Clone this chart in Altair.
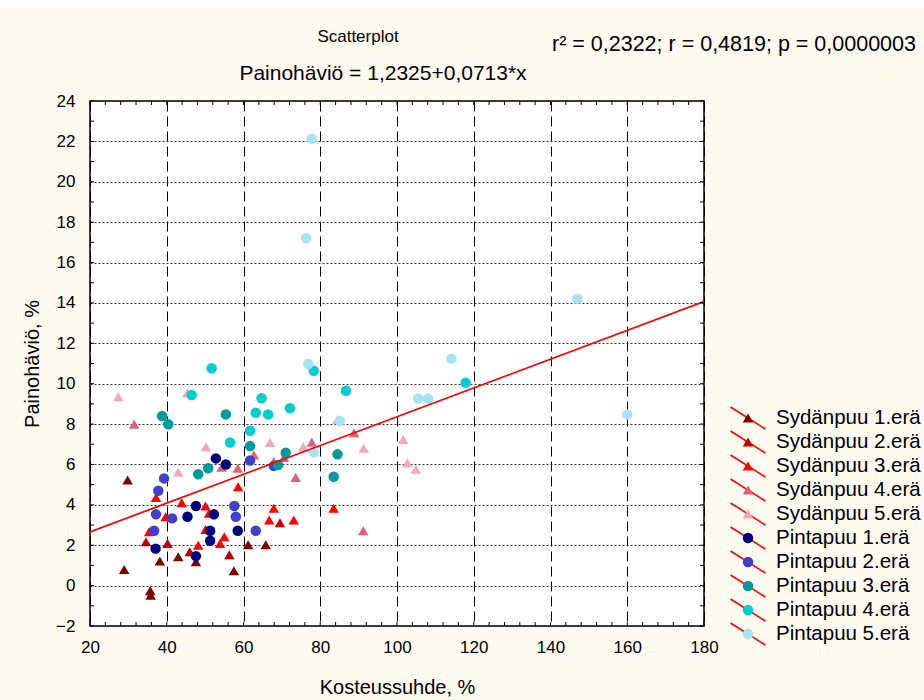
import altair as alt
import pandas as pd

# Moisture ratio (%) and weight loss (%) per batch
syd1_x = [29.8, 28.9, 35.7, 35.8, 38.2, 43.0, 47.6, 57.5, 61.2, 65.8]
syd1_y = [5.23, 0.80, -0.25, -0.47, 1.22, 1.43, 1.18, 0.74, 2.02, 2.02]
syd2_x = [34.6, 40.2, 46.0, 56.3, 69.5]
syd2_y = [2.17, 2.09, 1.68, 1.53, 3.11]
syd3_x = [37.2, 39.7, 35.4, 43.9, 48.2, 50.1, 51.0, 50.1, 53.9, 55.0, 58.6, 67.9, 66.7, 73.1, 83.5]
syd3_y = [4.37, 3.41, 2.67, 4.10, 2.00, 3.94, 3.58, 2.78, 2.09, 2.42, 4.90, 3.83, 3.25, 3.25, 3.83]
syd4_x = [31.5, 54.3, 58.5, 62.7, 67.9, 70.5, 73.6, 77.8, 88.8, 91.2]
syd4_y = [7.99, 5.86, 5.81, 6.47, 6.14, 6.35, 5.36, 7.10, 7.57, 2.72]
syd5_x = [27.4, 45.4, 50.2, 43.0, 66.9, 75.6, 91.3, 84.5, 101.6, 102.7, 104.9]
syd5_y = [9.35, 9.55, 6.88, 5.62, 7.09, 6.87, 6.80, 8.23, 7.24, 6.08, 5.76]
pin1_x = [52.8, 55.4, 47.6, 52.3, 45.4, 51.3, 51.3, 47.6, 58.5, 37.1]
pin1_y = [6.30, 6.00, 3.94, 3.53, 3.41, 2.72, 2.22, 1.46, 2.72, 1.83]
pin2_x = [39.3, 37.8, 37.2, 36.7, 41.4, 57.6, 58.0, 63.2, 61.7, 67.9]
pin2_y = [5.31, 4.70, 3.53, 2.72, 3.33, 3.94, 3.41, 2.72, 6.20, 5.93]
pin3_x = [38.8, 40.4, 55.4, 48.2, 50.8, 61.7, 71.0, 69.0, 84.5, 83.5]
pin3_y = [8.40, 7.99, 8.48, 5.51, 5.81, 6.91, 6.58, 5.97, 6.50, 5.39]
pin4_x = [46.5, 56.5, 64.7, 63.2, 66.4, 72.1, 61.7, 86.7, 51.7, 78.3, 117.9]
pin4_y = [9.44, 7.09, 9.28, 8.56, 8.48, 8.78, 7.67, 9.65, 10.76, 10.64, 10.05]
pin5_x = [77.8, 76.3, 76.9, 78.3, 85.1, 105.5, 108.1, 114.2, 147.0, 160.0]
pin5_y = [22.13, 17.20, 10.97, 6.60, 8.15, 9.27, 9.27, 11.24, 14.21, 8.48]

series_names = ["Sydänpuu 1.erä", "Sydänpuu 2.erä", "Sydänpuu 3.erä", "Sydänpuu 4.erä",
                "Sydänpuu 5.erä", "Pintapuu 1.erä", "Pintapuu 2.erä", "Pintapuu 3.erä",
                "Pintapuu 4.erä", "Pintapuu 5.erä"]
series_x = [syd1_x, syd2_x, syd3_x, syd4_x, syd5_x, pin1_x, pin2_x, pin3_x, pin4_x, pin5_x]
series_y = [syd1_y, syd2_y, syd3_y, syd4_y, syd5_y, pin1_y, pin2_y, pin3_y, pin4_y, pin5_y]
series_colors = ["#800000", "#C00000", "#FF0000", "#E0607A", "#F4A7BC",
                 "#000080", "#4040C8", "#009A9A", "#00CED1", "#A6E4F2"]
series_shapes = ["triangle-up"] * 5 + ["circle"] * 5
series_sizes = [110] * 5 + [80] * 5

# Regression line coefficients
intercept = 1.2325
slope = 0.0713
fit_x = [20, 180]

x_major = [20, 40, 60, 80, 100, 120, 140, 160, 180]
y_major = [-2, 0, 2, 4, 6, 8, 10, 12, 14, 16, 18, 20, 22, 24]
x_minor = list(range(20, 181, 4))
y_minor = list(range(-2, 25, 1))

title_text = "Scatterplot"
equation_text = "Painohäviö = 1,2325+0,0713*x"
stats_text = "r² = 0,2322;  r = 0,4819; p = 0,0000003"

W, H = 614, 525
FONT = "Liberation Sans"

rows = []
for name, xs, ys in zip(series_names, series_x, series_y):
    for xv, yv in zip(xs, ys):
        rows.append({"sarja": name, "kosteus": xv, "havio": yv})
df = pd.DataFrame(rows)

fit_df = pd.DataFrame({"kosteus": fit_x})
fit_df["havio"] = intercept + slope * fit_df["kosteus"]

xs = alt.Scale(domain=[20, 180], nice=False, zero=False)
ys = alt.Scale(domain=[-2, 24], nice=False, zero=False)
color_scale = alt.Scale(domain=series_names, range=series_colors)
shape_scale = alt.Scale(domain=series_names, range=series_shapes)
size_scale = alt.Scale(domain=series_names, range=series_sizes)

x_axis = alt.Axis(values=x_major, title="Kosteussuhde, %", grid=True, gridDash=[10, 5],
                  gridColor="#000000", gridWidth=1, gridOpacity=1, ticks=False,
                  domain=False, labelPadding=13, titlePadding=22, format="d",
                  labelFontSize=17, titleFontSize=20, orient="bottom",
                  labelFlush=False, labelOverlap=False)
y_axis = alt.Axis(values=y_major, title="Painohäviö, %", grid=True, gridDash=[2, 2],
                  gridColor="#333333", gridWidth=1, gridOpacity=1, ticks=False,
                  domain=False, labelPadding=15, titlePadding=13, format="d",
                  labelFontSize=17, titleFontSize=20, orient="left",
                  labelFlush=False, labelOverlap=False)

points = alt.Chart(df).mark_point(filled=True, opacity=1).encode(
    x=alt.X("kosteus:Q", scale=xs, axis=x_axis),
    y=alt.Y("havio:Q", scale=ys, axis=y_axis),
    color=alt.Color("sarja:N", scale=color_scale, legend=None),
    shape=alt.Shape("sarja:N", scale=shape_scale, legend=None),
    size=alt.Size("sarja:N", scale=size_scale, legend=None),
)

fit_line = alt.Chart(fit_df).mark_line(color="#FF0000", strokeWidth=1.8, clip=True).encode(
    x=alt.X("kosteus:Q", scale=xs, axis=None),
    y=alt.Y("havio:Q", scale=ys, axis=None),
)

# inward tick marks on all four sides of the frame
xt = pd.DataFrame({"t": x_minor})
yt = pd.DataFrame({"t": y_minor})
tick_bottom = alt.Chart(xt).mark_rule(color="black").encode(
    x=alt.X("t:Q", scale=xs, axis=None), y=alt.value(H - 4), y2=alt.value(H))
tick_top = alt.Chart(xt).mark_rule(color="black").encode(
    x=alt.X("t:Q", scale=xs, axis=None), y=alt.value(0), y2=alt.value(4))
tick_left = alt.Chart(yt).mark_rule(color="black").encode(
    y=alt.Y("t:Q", scale=ys, axis=None), x=alt.value(0), x2=alt.value(4))
tick_right = alt.Chart(yt).mark_rule(color="black").encode(
    y=alt.Y("t:Q", scale=ys, axis=None), x=alt.value(W - 4), x2=alt.value(W))

# legend: red fit-line sample crossed by each batch marker
leg_df = pd.DataFrame({"sarja": series_names, "rivi": list(range(len(series_names)))})
leg_y = alt.Y("rivi:Q", scale=alt.Scale(domain=[0, 9], range=[317, 533]), axis=None)
leg_line = alt.Chart(leg_df).mark_point(
    shape="M-1,-0.63L1,0.63", size=35 * 35, filled=False, color="#FF0000",
    strokeWidth=1.6, opacity=1).encode(x=alt.value(658), y=leg_y)
leg_marker = alt.Chart(leg_df).mark_point(filled=True, opacity=1).encode(
    x=alt.value(658), y=leg_y,
    color=alt.Color("sarja:N", scale=color_scale, legend=None),
    shape=alt.Shape("sarja:N", scale=shape_scale, legend=None),
    size=alt.Size("sarja:N", scale=size_scale, legend=None))
leg_text = alt.Chart(leg_df).mark_text(
    align="left", baseline="middle", fontSize=20.5, font=FONT, color="black").encode(
    x=alt.value(686), y=leg_y, text="sarja:N")

txt = pd.DataFrame({"teksti": [title_text, equation_text, stats_text]})
title_mark = alt.Chart(txt).transform_filter(alt.datum.teksti == title_text).mark_text(
    align="center", baseline="middle", fontSize=17, font=FONT, color="black").encode(
    x=alt.value(268), y=alt.value(-64), text="teksti:N")
equation_mark = alt.Chart(txt).transform_filter(alt.datum.teksti == equation_text).mark_text(
    align="center", baseline="middle", fontSize=21, font=FONT, color="black").encode(
    x=alt.value(293), y=alt.value(-27), text="teksti:N")
stats_mark = alt.Chart(txt).transform_filter(alt.datum.teksti == stats_text).mark_text(
    align="left", baseline="middle", fontSize=21.5, font=FONT, color="black").encode(
    x=alt.value(462), y=alt.value(-56), text="teksti:N")

top_band = alt.Chart(pd.DataFrame({"a": [0]})).mark_rect(color="white").encode(
    x=alt.value(-90), x2=alt.value(W + 220), y=alt.value(-101), y2=alt.value(-93))

chart = alt.layer(
    points, fit_line, tick_bottom, tick_top, tick_left, tick_right,
    leg_line, leg_marker, leg_text, title_mark, equation_mark, stats_mark, top_band,
).resolve_scale(x="independent", y="independent").properties(
    width=W, height=H,
    padding={"left": 90, "top": 101, "right": 220, "bottom": 74},
    autosize=alt.AutoSizeParams(type="none"),
    background="#FDFAF0",
).configure_view(
    fill="white", stroke="black", strokeWidth=1.5
).configure_axis(
    labelFont=FONT, titleFont=FONT, labelColor="black", titleColor="black",
    titleFontWeight="normal"
)

chart.save("out.html", embed_options={"renderer": "svg", "actions": False})
